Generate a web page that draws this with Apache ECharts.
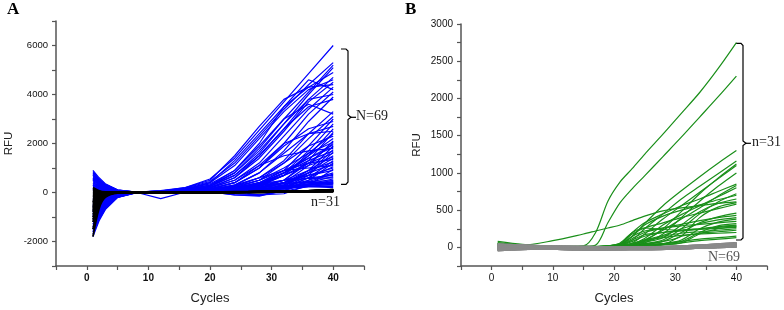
<!DOCTYPE html>
<html><head><meta charset="utf-8">
<script src="https://cdn.jsdelivr.net/npm/echarts@6/dist/echarts.min.js"></script>
<style>html,body{margin:0;padding:0;background:#fff}#c{width:784px;height:310px}</style>
</head><body><div id="c"></div>
<script>
// ---------- Panel A ----------
const cyclesA = [1,2,3,5,8,12,16,20,24,28,32,36,40];
const blueA = [
[900,600,360,110,20,60,200,550,1400,2550,3700,4850,6000],
[-1800,-1150,-700,-200,-20,50,180,450,1200,2300,3400,4400,5300],
[600,390,240,70,20,70,150,350,900,1900,3000,4100,5200],
[-1500,-980,-600,-180,0,40,130,300,800,1700,2800,4000,5100],
[300,200,120,40,20,60,120,400,1300,2400,3500,4300,4900],
[-900,-580,-360,-110,0,30,100,250,700,1500,2600,3800,4700],
[500,320,200,60,10,50,150,400,1100,2200,3300,4200,4600],
[-1200,-780,-480,-140,0,40,90,200,600,1400,2500,3700,4500],
[200,130,80,25,10,80,200,500,1500,2700,3800,4300,4400],
[-600,-390,-240,-70,0,30,80,180,500,1200,2300,3400,4300],
[700,450,280,85,20,60,120,300,900,2000,3500,4600,4200],
[-1000,-650,-400,-120,0,20,70,150,400,1000,2000,3200,4100],
[400,260,160,50,10,40,100,250,700,1600,2800,3800,4000],
[-1400,-900,-560,-170,-10,20,60,120,300,800,1700,2900,3900],
[100,65,40,10,10,30,80,200,600,1500,2600,3500,3800],
[-700,-450,-280,-85,0,20,50,100,250,600,1300,2400,3300],
[800,520,320,95,20,50,100,250,800,1800,3000,3600,3200],
[-300,-200,-120,-35,10,20,40,80,200,500,1200,2200,3100],
[-1600,-1040,-640,-190,-10,10,40,90,200,400,900,1900,3000],
[550,360,220,65,10,30,60,150,400,1000,1900,2600,2900],
[-800,-520,-320,-95,0,10,30,60,150,350,800,1700,2800],
[250,160,100,30,10,20,50,120,300,800,1600,2400,2700],
[-1100,-710,-440,-130,0,10,30,60,120,300,700,1500,2600],
[650,420,260,80,10,30,60,130,400,1100,2000,2400,2500],
[-500,-320,-200,-60,0,10,20,50,100,200,500,1300,2450],
[-1300,-850,-520,-155,0,10,20,40,100,250,700,1600,2400],
[350,230,140,40,10,20,40,100,250,600,1200,1900,2300],
[-200,-130,-80,-25,10,20,30,60,120,300,800,1500,2200],
[-900,-580,-360,-110,0,0,20,40,80,150,400,1100,2100],
[150,100,60,20,10,20,40,80,200,500,1000,1600,2050],
[-1700,-1100,-680,-200,-10,0,20,40,80,200,500,1200,2000],
[450,290,180,55,10,20,30,60,150,350,800,1400,1950],
[-400,-260,-160,-50,0,10,20,40,60,100,300,900,1900],
[-1000,-650,-400,-120,0,10,30,60,150,400,900,1400,1850],
[750,490,300,90,20,40,80,200,500,1100,1500,1700,1800],
[-600,-390,-240,-70,0,10,20,30,50,100,250,800,1750],
[50,30,20,5,10,20,40,80,180,400,800,1300,1700],
[-1200,-780,-480,-145,0,0,10,20,40,80,200,700,1650],
[300,200,120,35,10,-250,20,50,120,300,700,1200,1600],
[-800,-520,-320,-95,0,10,20,30,60,150,400,900,1500],
[-250,-160,-100,-30,10,20,30,60,150,350,700,1100,1450],
[-1500,-975,-600,-180,0,0,10,20,40,100,300,800,1400],
[600,390,240,70,10,30,50,100,250,500,900,1200,1350],
[-700,-450,-280,-85,0,10,20,30,40,60,150,600,1300],
[200,130,80,25,10,20,30,60,120,250,500,900,1250],
[-1100,-715,-440,-130,0,0,10,20,-50,-100,50,500,1200],
[-350,-230,-140,-40,0,10,20,40,80,180,400,800,1150],
[850,550,340,100,20,30,60,120,300,600,900,1000,1100],
[-950,-620,-380,-115,0,10,20,30,50,80,200,600,1050],
[-150,-100,-60,-20,10,20,30,50,100,200,400,700,1000],
[-1300,-845,-520,-155,0,0,10,20,30,-100,-50,300,950],
[400,260,160,50,10,20,40,70,150,300,500,700,900],
[-550,-360,-220,-65,0,10,20,30,60,120,250,500,800],
[-1400,-910,-560,-170,0,0,10,20,40,80,200,450,750],
[100,65,40,10,10,20,30,50,100,200,400,600,700],
[-750,-490,-300,-90,0,10,20,30,50,100,200,400,650],
[500,325,200,60,10,20,30,60,150,350,500,580,600],
[-250,-160,-100,-30,10,10,20,30,-100,-150,100,350,550],
[-1000,-650,-400,-120,0,10,20,30,50,80,150,300,500],
[700,455,280,85,10,20,30,40,80,200,350,450,480],
[-450,-290,-180,-55,0,10,20,30,50,100,200,350,450],
[-1600,-1040,-640,-190,-10,0,10,20,40,80,150,300,420],
[300,195,120,35,10,20,30,60,150,300,380,400,400],
[-650,-420,-260,-80,0,10,20,30,50,90,180,300,380],
[-50,-30,-20,-5,10,20,30,40,80,150,250,330,360],
[-1200,-780,-480,-145,0,0,10,20,-100,-120,50,250,340],
[550,360,220,65,10,20,30,40,70,150,250,300,300],
[-850,-550,-340,-100,0,10,20,30,50,100,180,230,250],
[150,100,60,20,10,20,30,50,100,200,300,250,200]
];
const blackA = [
[-1800,-650,-200,-20,-10,0,10,10,20,30,40,60,80],
[-1500,-520,-150,-10,-10,0,10,20,20,30,50,70,100],
[-1200,-420,-120,-10,-10,10,10,10,20,20,30,50,60],
[-1100,-380,-110,-10,-10,0,0,10,10,20,40,60,90],
[-1000,-350,-100,-10,-10,0,10,10,20,30,50,80,120],
[-900,-320,-90,-10,0,10,10,20,20,30,40,50,70],
[-800,-280,-80,-10,0,0,10,10,10,20,30,50,80],
[-700,-250,-70,-10,0,10,10,10,20,20,30,40,50],
[-650,-230,-65,-10,0,0,0,10,10,20,40,60,100],
[-600,-210,-60,-10,0,10,10,20,30,40,50,70,110],
[-550,-190,-55,-10,0,0,10,10,20,30,40,50,60],
[-500,-175,-50,0,0,0,0,0,10,10,20,40,70],
[-450,-160,-45,0,0,10,10,10,20,30,40,60,90],
[-400,-140,-40,0,0,0,10,10,10,20,30,40,50],
[-350,-120,-35,0,0,0,0,10,20,30,40,60,80],
[-300,-105,-30,0,0,10,10,20,20,30,50,70,120],
[-250,-90,-25,0,0,0,0,0,10,10,20,30,40],
[-200,-70,-20,0,0,0,10,10,20,20,30,50,70],
[-150,-50,-15,0,0,10,10,10,20,30,40,60,100],
[-100,-35,-10,0,0,0,0,10,10,20,30,40,60],
[-80,-30,-10,0,0,0,10,10,10,20,40,50,80],
[-50,-20,0,0,0,10,10,20,20,30,40,60,90],
[-30,-10,0,0,0,0,0,0,10,10,20,30,50],
[0,0,0,0,0,0,10,10,20,20,30,50,70],
[30,10,0,0,0,10,10,10,10,20,30,40,60],
[60,20,10,0,0,0,0,10,10,20,30,50,90],
[100,35,10,0,0,0,10,10,20,30,40,60,110],
[150,50,15,0,0,0,0,0,10,10,20,30,40],
[200,70,20,0,0,0,10,10,10,20,30,40,50],
[-750,-260,-75,-10,0,10,10,20,20,30,40,50,70],
[-400,-140,-40,0,0,0,0,10,10,20,30,40,60]
];
// ---------- Panel B ----------
const cyclesB = [1,5,10,15,17,19,21,23,25,28,31,34,37,40];
const greenB = [
[60,30,15,20,200,620,880,1060,1250,1520,1800,2080,2400,2750],
[40,25,10,15,30,330,600,790,960,1220,1480,1750,2020,2300],
[30,20,10,10,10,20,40,150,320,560,760,950,1130,1300],
[20,15,10,10,10,15,30,100,250,450,650,820,990,1160],
[30,20,10,10,10,10,20,40,90,250,480,720,930,1120],
[10,10,5,5,5,10,20,60,180,380,560,740,920,1100],
[20,15,10,10,10,10,15,30,60,180,400,620,820,1000],
[30,20,10,5,10,20,40,200,330,450,560,650,750,850],
[15,10,5,5,5,10,20,40,100,230,380,530,690,830],
[25,15,10,10,10,15,25,50,120,300,440,560,680,800],
[40,25,15,10,10,15,20,30,50,100,250,450,610,720],
[10,5,5,5,5,10,30,150,300,420,500,570,640,700],
[20,15,10,10,10,10,20,40,70,130,300,480,590,650],
[50,30,90,180,220,260,300,360,420,490,530,560,590,610],
[20,10,10,10,10,10,15,30,50,80,150,400,540,600],
[30,20,10,10,10,20,50,180,260,330,400,460,520,580],
[20,15,10,10,10,10,15,25,40,80,200,330,410,460],
[10,10,5,5,5,10,30,120,200,260,310,360,400,430],
[60,30,15,10,10,10,20,50,100,160,250,320,370,400],
[15,10,5,5,5,5,10,20,30,50,100,250,340,380],
[30,20,10,10,10,15,40,150,220,260,290,310,330,350],
[20,10,10,10,10,10,20,30,40,50,80,200,290,320],
[40,25,10,10,10,20,60,200,260,240,230,250,280,300],
[15,10,5,5,5,10,20,80,150,200,230,250,270,290],
[25,15,10,10,10,10,10,20,30,40,60,180,250,280],
[80,40,10,5,5,10,30,100,170,200,220,240,255,270],
[10,5,5,5,5,10,20,40,80,150,190,210,230,250],
[30,20,10,10,10,10,15,20,30,40,150,190,210,230],
[50,30,15,10,10,10,20,50,90,130,160,180,190,200],
[20,15,10,10,10,10,15,20,30,50,80,110,130,150],
[10,10,5,5,5,5,10,15,20,30,60,90,110,130]
];
const cyclesGray = [1,8,16,24,32,40];
const grayB = [
[-30,-10,-20,-10,0,20],[20,10,0,-10,10,40],[-40,-20,-30,-20,0,30],[10,0,-10,0,10,50],
[30,10,0,-10,0,20],[-20,-10,-20,-20,-10,10],[0,0,-10,0,10,40],[40,20,10,0,10,30],
[-10,-10,-20,-10,0,20],[20,0,-10,-20,0,50],[-30,-20,-30,-10,10,60],[10,0,0,0,10,30],
[0,-10,-20,-20,-10,10],[30,10,0,0,10,40],[-20,-10,-10,-10,0,20],[10,10,0,-10,10,50],
[-40,-20,-30,-30,-10,20],[20,10,0,0,10,30],[0,-10,-10,-10,0,40],[-10,0,-20,-20,0,10],
[40,20,10,0,20,60],[-30,-10,-20,-10,0,30],[10,0,-10,-20,-10,20],[0,0,0,0,10,40],
[-20,-20,-30,-20,0,30],[30,10,0,-10,10,50],[-10,-10,-10,0,10,20],[20,0,-10,-10,0,40],
[-30,-20,-20,-30,-10,10],[10,10,0,0,20,50],[0,-10,-20,-10,0,30],[-20,0,-10,-20,0,20],
[40,10,0,0,10,40],[-10,-10,-20,-10,10,30],[20,10,0,-10,0,20],[-40,-20,-30,-20,-10,10],
[0,0,-10,0,10,50],[30,10,0,-10,10,30],[-20,-10,-20,-20,0,40],[10,0,-10,0,10,20],
[-30,-20,-10,-10,0,30],[20,10,0,0,20,60],[0,-10,-20,-20,-10,20],[-10,0,-10,-10,0,40],
[30,10,-10,-10,10,30],[-20,-10,-20,-30,-10,10],[10,10,0,0,10,50],[-40,-20,-20,-10,0,20],
[20,0,-10,-20,0,40],[0,-10,-20,-10,10,30],[-20,-10,-10,0,10,20],[40,20,0,-10,0,40],
[-10,-10,-30,-20,0,30],[10,0,-10,0,20,50],[-30,-10,-20,-20,-10,20],[20,10,0,-10,10,30],
[0,0,-10,-10,0,40],[-20,-20,-20,-10,0,10],[30,10,0,0,10,50],[-10,-10,-20,-20,0,30],
[10,0,-10,-10,10,20],[-30,-20,-30,-20,-10,40],[20,10,0,0,10,30],[0,-10,-10,-10,0,20],
[-20,0,-20,-10,10,50],[40,10,0,-10,0,30],[-10,-10,-10,-20,-10,20],[10,0,-20,0,10,40],
[-40,-20,-20,-10,0,30]
];
// tick labels
const xTicksShown = [0,10,20,30,40];
const yTicksA = [-2000,0,2000,4000,6000];
const yTicksB = [0,500,1000,1500,2000,2500,3000];

const toPts = (cyc, row) => cyc.map((c,i)=>[c,row[i]]);
const series = [];
blueA.forEach(r=>series.push({type:'line',xAxisIndex:0,yAxisIndex:0,data:toPts(cyclesA,r),symbol:'none',smooth:false,lineStyle:{color:'#0000ff',width:1.2},silent:true,z:2}));
blackA.forEach(r=>series.push({type:'line',xAxisIndex:0,yAxisIndex:0,data:toPts(cyclesA,r),symbol:'none',smooth:0.3,lineStyle:{color:'#000000',width:1.8},silent:true,z:3}));
greenB.forEach(r=>series.push({type:'line',xAxisIndex:1,yAxisIndex:1,data:toPts(cyclesB,r),symbol:'none',smooth:0.3,lineStyle:{color:'#1a8f1a',width:1.2},silent:true,z:2}));
grayB.forEach(r=>series.push({type:'line',xAxisIndex:1,yAxisIndex:1,data:toPts(cyclesGray,r),symbol:'none',smooth:0.3,lineStyle:{color:'#8a8a8a',width:2},silent:true,z:3}));

const axLine = {show:true,onZero:false,lineStyle:{color:'#555',width:1.5}};
const axTick = {show:true,length:4,lineStyle:{color:'#555',width:1.2}};
const sans = 'Liberation Sans, Arial, sans-serif';
const serif = 'Liberation Serif, Times New Roman, serif';

const chart = echarts.init(document.getElementById('c'));
chart.setOption({
  animation:false,
  backgroundColor:'#fff',
  grid:[
    {left:56,right:420,top:21,bottom:41},
    {left:461,right:17,top:24,bottom:41}
  ],
  xAxis:[
    {gridIndex:0,type:'value',min:-5,max:45,interval:5,axisLine:axLine,axisTick:axTick,splitLine:{show:false},
     axisLabel:{fontSize:10,fontWeight:'bold',color:'#111',fontFamily:sans,margin:7,formatter:v=>xTicksShown.includes(v)?String(v):''},
     name:'Cycles',nameLocation:'middle',nameGap:26,nameTextStyle:{fontSize:13,color:'#222',fontFamily:sans}},
    {gridIndex:1,type:'value',min:-5,max:45,interval:5,axisLine:axLine,axisTick:axTick,splitLine:{show:false},
     axisLabel:{fontSize:10,color:'#111',fontFamily:sans,margin:7,formatter:v=>xTicksShown.includes(v)?String(v):''},
     name:'Cycles',nameLocation:'middle',nameGap:26,nameTextStyle:{fontSize:13,color:'#222',fontFamily:sans}}
  ],
  yAxis:[
    {gridIndex:0,type:'value',min:-3000,max:7000,interval:1000,axisLine:axLine,axisTick:axTick,splitLine:{show:false},
     axisLabel:{fontSize:9.5,color:'#111',fontFamily:sans,margin:8,formatter:v=>yTicksA.includes(v)?String(v):''},
     name:'RFU',nameLocation:'middle',nameGap:41,nameTextStyle:{fontSize:11.5,color:'#222',fontFamily:sans}},
    {gridIndex:1,type:'value',min:-250,max:3000,interval:250,axisLine:axLine,axisTick:axTick,splitLine:{show:false},
     axisLabel:{fontSize:10,color:'#111',fontFamily:sans,margin:8,formatter:v=>yTicksB.includes(v)?String(v):''},
     name:'RFU',nameLocation:'middle',nameGap:38,nameTextStyle:{fontSize:11.5,color:'#222',fontFamily:sans}}
  ],
  series:series,
  graphic:[
    {type:'text',left:7,top:1,style:{text:'A',font:'bold 17px '+serif,fill:'#000'}},
    {type:'text',left:405,top:1,style:{text:'B',font:'bold 17px '+serif,fill:'#000'}},
    {type:'polyline',shape:{points:[[341,49],[346,49],[348,51],[348,115],[351,117.3],[348,119.6],[348,182],[346,184.3],[341,184.3]]},style:{stroke:'#000',fill:null,lineWidth:1.2}},
    {type:'line',shape:{x1:351,y1:117.3,x2:356,y2:117.3},style:{stroke:'#000',lineWidth:1.2}},
    {type:'text',left:356,top:109,style:{text:'N=69',font:'14px '+serif,fill:'#222'}},
    {type:'text',left:311,top:195,style:{text:'n=31',font:'14px '+serif,fill:'#222'}},
    {type:'polyline',shape:{points:[[736,43.3],[741,43.3],[743,45.5],[743,141],[746,143.3],[743,145.6],[743,238],[741,240],[736,240]]},style:{stroke:'#000',fill:null,lineWidth:1.2}},
    {type:'line',shape:{x1:746,y1:143.3,x2:751,y2:143.3},style:{stroke:'#000',lineWidth:1.2}},
    {type:'text',left:752,top:135,style:{text:'n=31',font:'14px '+serif,fill:'#222'}},
    {type:'text',left:708,top:250,style:{text:'N=69',font:'14px '+serif,fill:'#555'}}
  ]
});
</script></body></html>
